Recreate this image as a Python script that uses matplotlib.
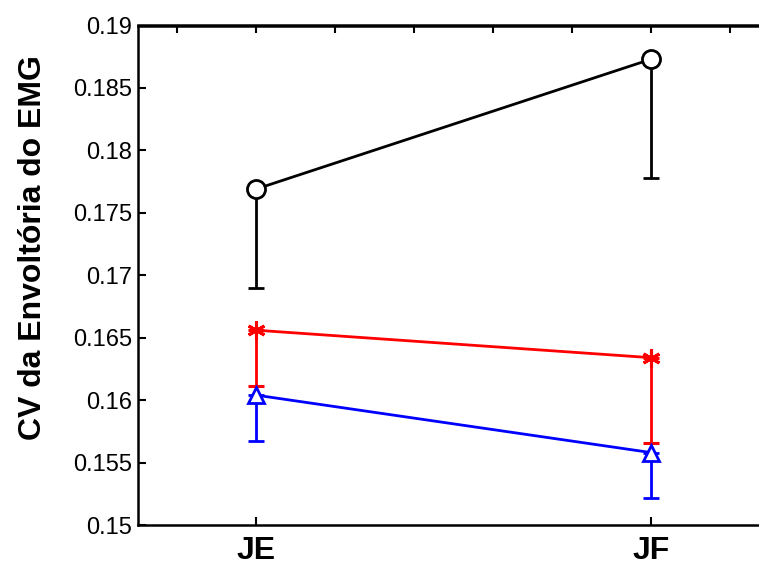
import matplotlib
matplotlib.use('Agg')
import matplotlib.pyplot as plt

# dados: média e desvio (só para baixo) de cada condição
grupos = ['JE', 'JF']
x = [1, 2]

media_preto = [0.1769, 0.1873]
dp_preto = [0.0079, 0.0095]

media_verm = [0.1656, 0.1634]
dp_verm = [0.0045, 0.0068]

media_azul = [0.1604, 0.1558]
dp_azul = [0.0037, 0.0036]

plt.rcParams['font.family'] = ['Liberation Sans', 'DejaVu Sans']

fig = plt.figure(figsize=(7.59, 5.65), dpi=100)
W, H = 759, 565
# eixo maior que a figura: o lado direito fica cortado
ax = fig.add_axes([137.5 / W, 40 / H, 632 / W, 499.5 / H])

lw = 2.0
cap = 5.8
ax.errorbar(x, media_preto, yerr=[dp_preto, [0, 0]], color='black', lw=lw,
            marker='o', ms=13, mfc='white', mec='black', mew=lw,
            capsize=cap, capthick=lw, zorder=3)
ax.errorbar(x, media_verm, yerr=[dp_verm, [0, 0]], color='red', lw=lw,
            marker=(6, 2, 0), ms=13, mec='red', mew=2.2,
            capsize=cap, capthick=lw, zorder=3)
ax.errorbar(x, media_azul, yerr=[dp_azul, [0, 0]], color='blue', lw=lw,
            marker='^', ms=12, mfc='white', mec='blue', mew=lw,
            capsize=cap, capthick=lw, zorder=4)

ax.set_xlim(0.7, 2.3)
ax.set_ylim(0.15, 0.19)
ax.set_xticks(x)
ax.set_xticklabels(grupos, fontsize=23, fontweight='bold')
ax.set_yticks([0.15, 0.155, 0.16, 0.165, 0.17, 0.175, 0.18, 0.185, 0.19])
ax.set_yticklabels(['0.15', '0.155', '0.16', '0.165', '0.17', '0.175',
                    '0.18', '0.185', '0.19'], fontsize=17)
ax.tick_params(direction='in', length=6, width=1.5, pad=4)
ax.tick_params(axis='x', pad=8)

# marcas no topo a cada 0.2
topo = ax.secondary_xaxis('top')
topo.set_xticks([0.8, 1.0, 1.2, 1.4, 1.6, 1.8, 2.0, 2.2])
topo.set_xticklabels([])
topo.tick_params(direction='in', length=6, width=1.5)
topo.spines['top'].set_linewidth(1.8)

for s in ax.spines.values():
    s.set_linewidth(1.8)

ax.set_ylabel('CV da Envoltória do EMG', fontsize=23, fontweight='bold')
ax.yaxis.set_label_coords(-(137.5 - 48) / 632, (525 - 248) / 499.5)

fig.savefig('out.png', dpi=100)
